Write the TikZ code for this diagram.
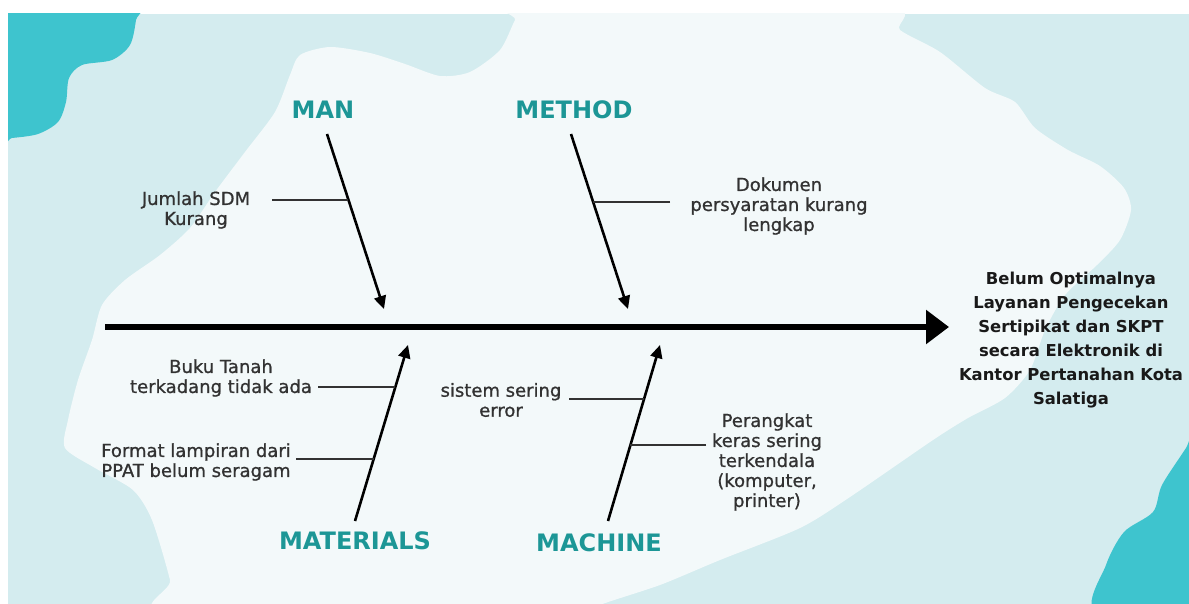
\documentclass[tikz,border=0pt]{standalone}
\usepackage{fontspec}
\setmainfont{DejaVu Sans}
\newfontfamily\causefont[FakeBold=0.9]{DejaVu Sans}
\usetikzlibrary{
		positioning,
		arrows.meta
	}
\tikzset{
		>=Triangle
	}
\definecolor{seablue}{RGB}{212, 236, 239}
\definecolor{paperwhite}{RGB}{243, 249, 250}
\definecolor{lagoon}{RGB}{62, 196, 206}
\definecolor{tealtext}{RGB}{28, 150, 150}
\definecolor{inkgray}{RGB}{50, 50, 50}

\begin{document}
\begin{tikzpicture}
		[x=1pt, y=-1pt,
		spine/.style= {line width=6.5pt, -{Triangle[length=23pt,width=33pt]}},
		bone/.style= {line width=2.6pt, -{Triangle[length=13pt,width=12pt]}},
		twig/.style= {line width=1.5pt, draw=inkgray},
		cat/.style= {text=tealtext, inner sep=0pt, font=\fontsize{24}{28}\selectfont\bfseries},
		cause/.style= {text=inkgray, align=center, inner sep=0pt, font=\causefont\fontsize{18}{20}\selectfont},
		effect/.style= {text=black!90, align=center, inner sep=0pt, font=\fontsize{16.4}{24}\selectfont\bfseries}
		]

		\useasboundingbox (0,0) rectangle (1189,604);

		% backdrop
		\begin{scope}
			\clip (8,14) rectangle (1189,604);
			\fill [seablue] (8,14) rectangle (1189,604);
			\fill [lagoon] plot [smooth cycle, tension=0.5] coordinates {(0,0) (137,0) (136,20) (130,45) (112,60) (82,65) (69,78) (66,102) (58,122) (38,134) (12,138) (0,138)};
			\fill [lagoon] plot [smooth cycle, tension=0.5] coordinates {(1200,425) (1186,448) (1162,485) (1153,512) (1124,532) (1106,565) (1096,612) (1200,620)};
			\fill [paperwhite] plot [smooth cycle, tension=0.45] coordinates {
				(300,55) (330,47) (370,53) (405,64) (440,76) (470,72) (500,50) (515,20) (525,5)
				(880,5) (900,30) (940,52) (985,88) (1015,102) (1035,128) (1068,150) (1100,166)
				(1124,188) (1131,210) (1120,240) (1097,265) (1065,295) (1045,330) (1030,370)
				(1005,398) (968,418) (933,440) (850,497) (800,528) (720,560) (660,585) (600,605)
				(590,615) (175,615) (170,580) (152,520) (133,490) (95,468) (65,448) (68,420)
				(78,380) (92,340) (102,305) (125,280) (160,255) (190,228) (215,192) (245,152)
				(275,112) (290,75)};
		\end{scope}

		% head of the fish
		\coordinate (tail) at (105,327);
		\coordinate (head) at (949,327);
		\draw [spine] (tail) -- (head);
		\node [effect] (EFF) at (1071,340) {Belum Optimalnya\\Layanan Pengecekan\\Sertipikat dan SKPT\\secara Elektronik di\\Kantor Pertanahan Kota\\Salatiga};

		% bones
		\coordinate (manS) at (327,134);
		\coordinate (manE) at (384,309);
		\coordinate (mtdS) at (571,134);
		\coordinate (mtdE) at (628,309);
		\coordinate (matS) at (355,521);
		\coordinate (matE) at (408,345);
		\coordinate (mchS) at (608,521);
		\coordinate (mchE) at (660,345);

		\node [cat] (MAN) at (323,110) {MAN};
		\node [cat] (MTD) at (574,110) {METHOD};
		\node [cat] (MAT) at (355,541) {MATERIALS};
		\node [cat] (MCH) at (599,543) {MACHINE};

		\draw [bone] (manS) -- coordinate[pos=0.377] (manK1) (manE);
		\draw [bone] (mtdS) -- coordinate[pos=0.389] (mtdK1) (mtdE);
		\draw [bone] (matS) -- coordinate[pos=0.761] (matK1) coordinate[pos=0.352] (matK2) (matE);
		\draw [bone] (mchS) -- coordinate[pos=0.693] (mchK1) coordinate[pos=0.432] (mchK2) (mchE);

		% causes
		\coordinate (jmlL) at (272,200);
		\coordinate (dokR) at (670,202);
		\coordinate (bukL) at (318,387);
		\coordinate (fmtL) at (296,459);
		\coordinate (sisL) at (569,399);
		\coordinate (prgR) at (706,445);

		\draw [twig] (jmlL) -- (jmlL -| manK1);
		\draw [twig] (dokR) -- (dokR -| mtdK1);
		\draw [twig] (bukL) -- (bukL -| matK1);
		\draw [twig] (fmtL) -- (fmtL -| matK2);
		\draw [twig] (sisL) -- (sisL -| mchK1);
		\draw [twig] (prgR) -- (prgR -| mchK2);

		\node [cause] (JML) at (196,210) {Jumlah SDM\\Kurang};
		\node [cause] (DOK) at (779,206) {Dokumen\\persyaratan kurang\\lengkap};
		\node [cause] (BUK) at (221,378) {Buku Tanah\\terkadang tidak ada};
		\node [cause] (FMT) at (196,462) {Format lampiran dari\\PPAT belum seragam};
		\node [cause] (SIS) at (501,400) {sistem sering\\error};
		\node [cause] (PRG) at (767,462) {Perangkat\\keras sering\\terkendala\\(komputer,\\printer)};

	\end{tikzpicture}
\end{document}
